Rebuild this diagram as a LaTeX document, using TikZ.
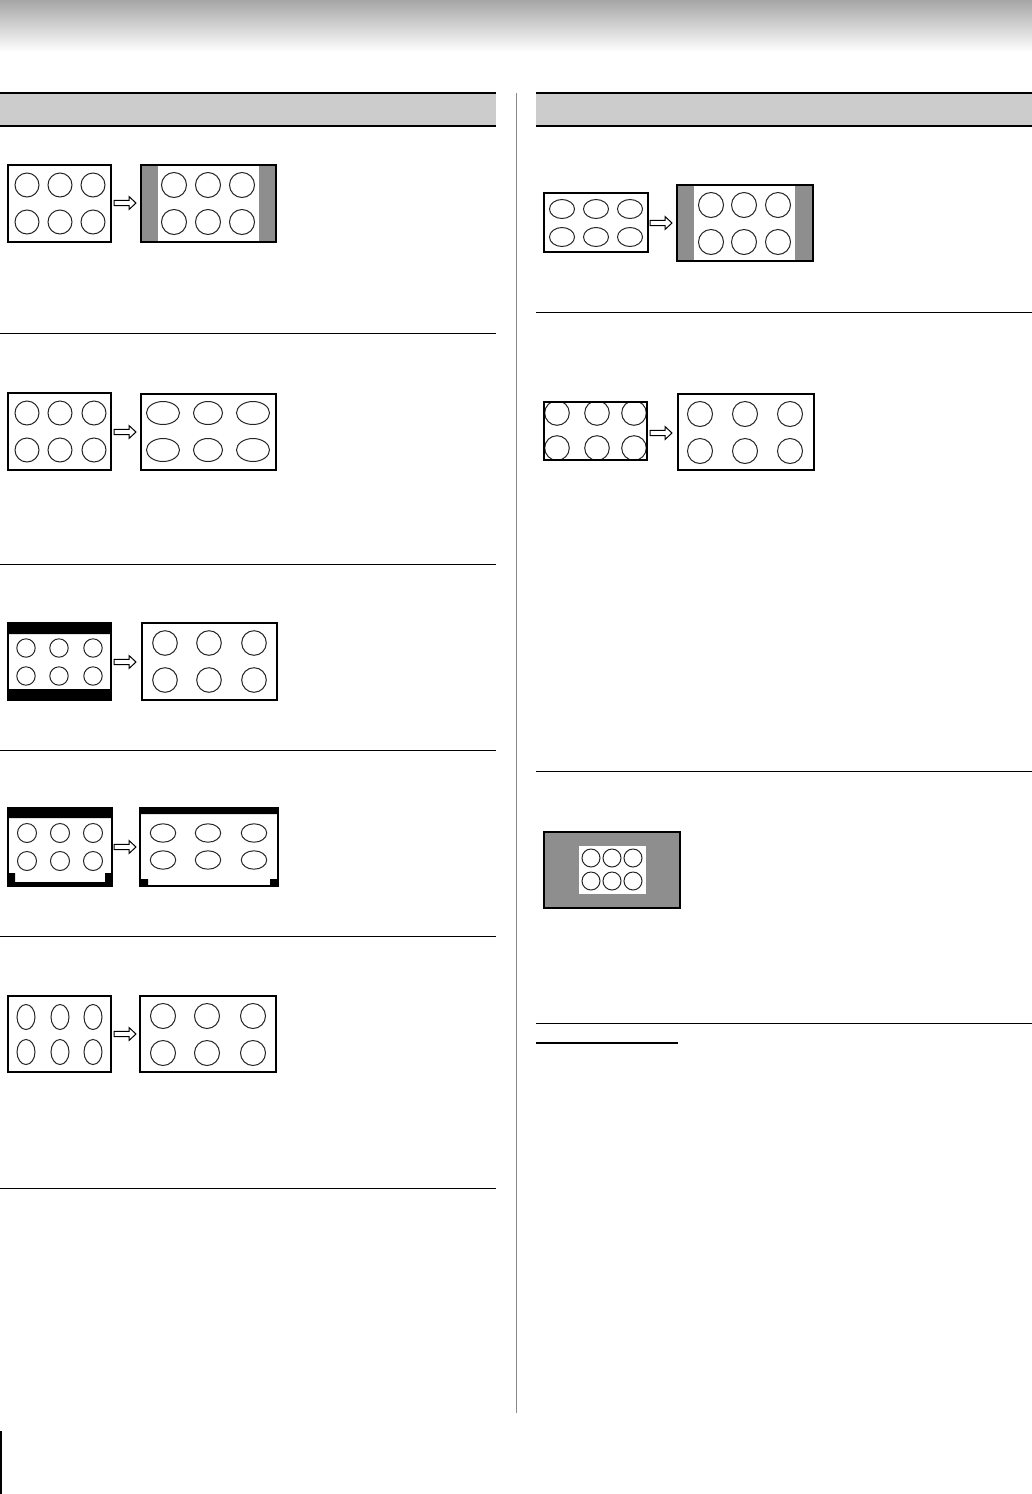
\documentclass[tikz,border=0pt]{standalone}
\usepackage{tikz}
\usetikzlibrary{calc, positioning}
\definecolor{topgray}{HTML}{A6A6A6}
\definecolor{bargray}{HTML}{CCCCCC}
\definecolor{pillar}{HTML}{8E8E8E}
\definecolor{rulegray}{HTML}{8A8A8A}
\tikzset{el/.style={line cap=butt, line join=miter},
  scr/.style={draw=black, line width=1.3pt},
  scrthin/.style={draw=black, line width=1pt},
  ov/.style={draw=black!85, line width=0.5pt},
  sep/.style={draw=black, line width=0.5pt},
  hollowarr/.pic={\draw[fill=white, line width=0.5pt] (0,-2.6) -- (15,-2.6) -- (15,-6.5) -- (22,0) -- (15,6.5) -- (15,2.6) -- (0,2.6) -- cycle;}}
\begin{document}
\begin{tikzpicture}[el, x=0.5pt, y=-0.5pt]
  \useasboundingbox (0,0) rectangle (1032,1494);
  \shade[top color=topgray, bottom color=white] (0,0) rectangle (1032,52);
  \foreach \xa/\xb in {0/496,536/1032}{
     \fill[bargray] (\xa,93) rectangle (\xb,126);
     \draw[line width=0.7pt] (\xa,93) -- (\xb,93) (\xa,126) -- (\xb,126);}
  \draw[rulegray, line width=0.5pt] (516,93) -- (516,1413);
  \draw[line width=1pt] (1,1431) -- (1,1494);
  \foreach \sy in {333,564,750,936,1188}{\draw[sep] (0,\sy) -- (496,\sy);}
  \foreach \sy in {312,771,1023}{\draw[sep] (536,\sy) -- (1032,\sy);}
  \draw[line width=1pt] (536,1043) -- (678,1043);
  % left column
  \draw[scr] (8,165) rectangle (111,242);
  \foreach \cx in {27,60,93}{\foreach \cy in {185,222}{\draw[ov] (\cx,\cy) circle (12);}}
  \pic at (114,203) {hollowarr};
  \fill[pillar] (141,165) rectangle (158,242);\fill[pillar] (259,165) rectangle (276,242);
  \draw[scr] (141,165) rectangle (276,242);
  \foreach \cx in {174,208,242}{\foreach \cy in {185,222}{\draw[ov] (\cx,\cy) circle (12.5);}}

  \draw[scr] (8,393) rectangle (111,470);
  \foreach \cx in {27,60,94}{\foreach \cy in {413,450}{\draw[ov] (\cx,\cy) circle (12);}}
  \pic at (114,432) {hollowarr};
  \draw[scrthin] (141,394) rectangle (276,470);
  \foreach \cx/\rx in {163/16.5,208/14.5,253/16.5}{\foreach \cy in {413,450}{
     \draw[ov] (\cx,\cy) ellipse [x radius=\rx, y radius=11.5];}}

  \fill[black] (8,623) rectangle (111,634) (8,689) rectangle (111,700);
  \draw[scrthin] (8,623) rectangle (111,700);
  \foreach \cx in {26,59,93}{\foreach \cy in {648,676}{\draw[ov] (\cx,\cy) circle (9.2);}}
  \pic at (114,662) {hollowarr};
  \draw[scrthin] (142,623) rectangle (277,700);
  \foreach \cx in {165,209,254}{\foreach \cy in {643,680}{\draw[ov] (\cx,\cy) circle (12.3);}}

  \fill[black] (8,808) rectangle (112,818) (8,873) rectangle (15,886) (105,873) rectangle (112,886) (8,882) rectangle (112,886);
  \draw[scrthin] (8,808) rectangle (112,886);
  \foreach \cx in {27,60,93}{\foreach \cy in {833,861}{\draw[ov] (\cx,\cy) circle (9.5);}}
  \pic at (114,847) {hollowarr};
  \fill[black] (140,808) rectangle (278,814) (140,879) rectangle (148,886) (270,879) rectangle (278,886);
  \draw[scrthin] (140,808) rectangle (278,886);
  \foreach \cx in {163,208,254}{\foreach \cy in {833,860}{
     \draw[ov] (\cx,\cy) ellipse [x radius=12.7, y radius=9.2];}}

  \draw[scr] (8,996) rectangle (111,1072);
  \foreach \cx in {26,60,93}{\foreach \cy in {1017,1052}{
     \draw[ov] (\cx,\cy) ellipse [x radius=9, y radius=12.5];}}
  \pic at (114,1034) {hollowarr};
  \draw[scr] (140,996) rectangle (276,1072);
  \foreach \cx in {163,207,253}{\foreach \cy in {1016,1053}{\draw[ov] (\cx,\cy) circle (12.5);}}
  % right column
  \draw[scr] (544,193) rectangle (648,252);
  \foreach \cx in {562,596,630}{\foreach \cy in {209,237}{
     \draw[ov] (\cx,\cy) ellipse [x radius=12.5, y radius=9.5];}}
  \pic at (650,223) {hollowarr};
  \fill[pillar] (677,185) rectangle (694,261);\fill[pillar] (795,185) rectangle (813,261);
  \draw[scr] (677,185) rectangle (813,261);
  \foreach \cx in {711,744,778}{\foreach \cy in {205,242}{\draw[ov] (\cx,\cy) circle (12.5);}}

  \begin{scope}\clip (544,402) rectangle (647,460);
     \foreach \cx in {557,597,634}{\foreach \cy in {413,448}{\draw[ov] (\cx,\cy) circle (12.3);}}\end{scope}
  \draw[scr] (544,402) rectangle (647,460);
  \pic at (650,433) {hollowarr};
  \draw[scrthin] (678,394) rectangle (814,470);
  \foreach \cx in {700,745,790}{\foreach \cy in {414,451}{\draw[ov] (\cx,\cy) circle (12.5);}}

  \filldraw[fill=pillar, scr] (544,832) rectangle (680,908);
  \fill[white] (579,846) rectangle (646,894);
  \foreach \cx in {591,612,633}{\foreach \cy in {858,881}{\draw[ov] (\cx,\cy) circle (9);}}
\end{tikzpicture}
\end{document}
